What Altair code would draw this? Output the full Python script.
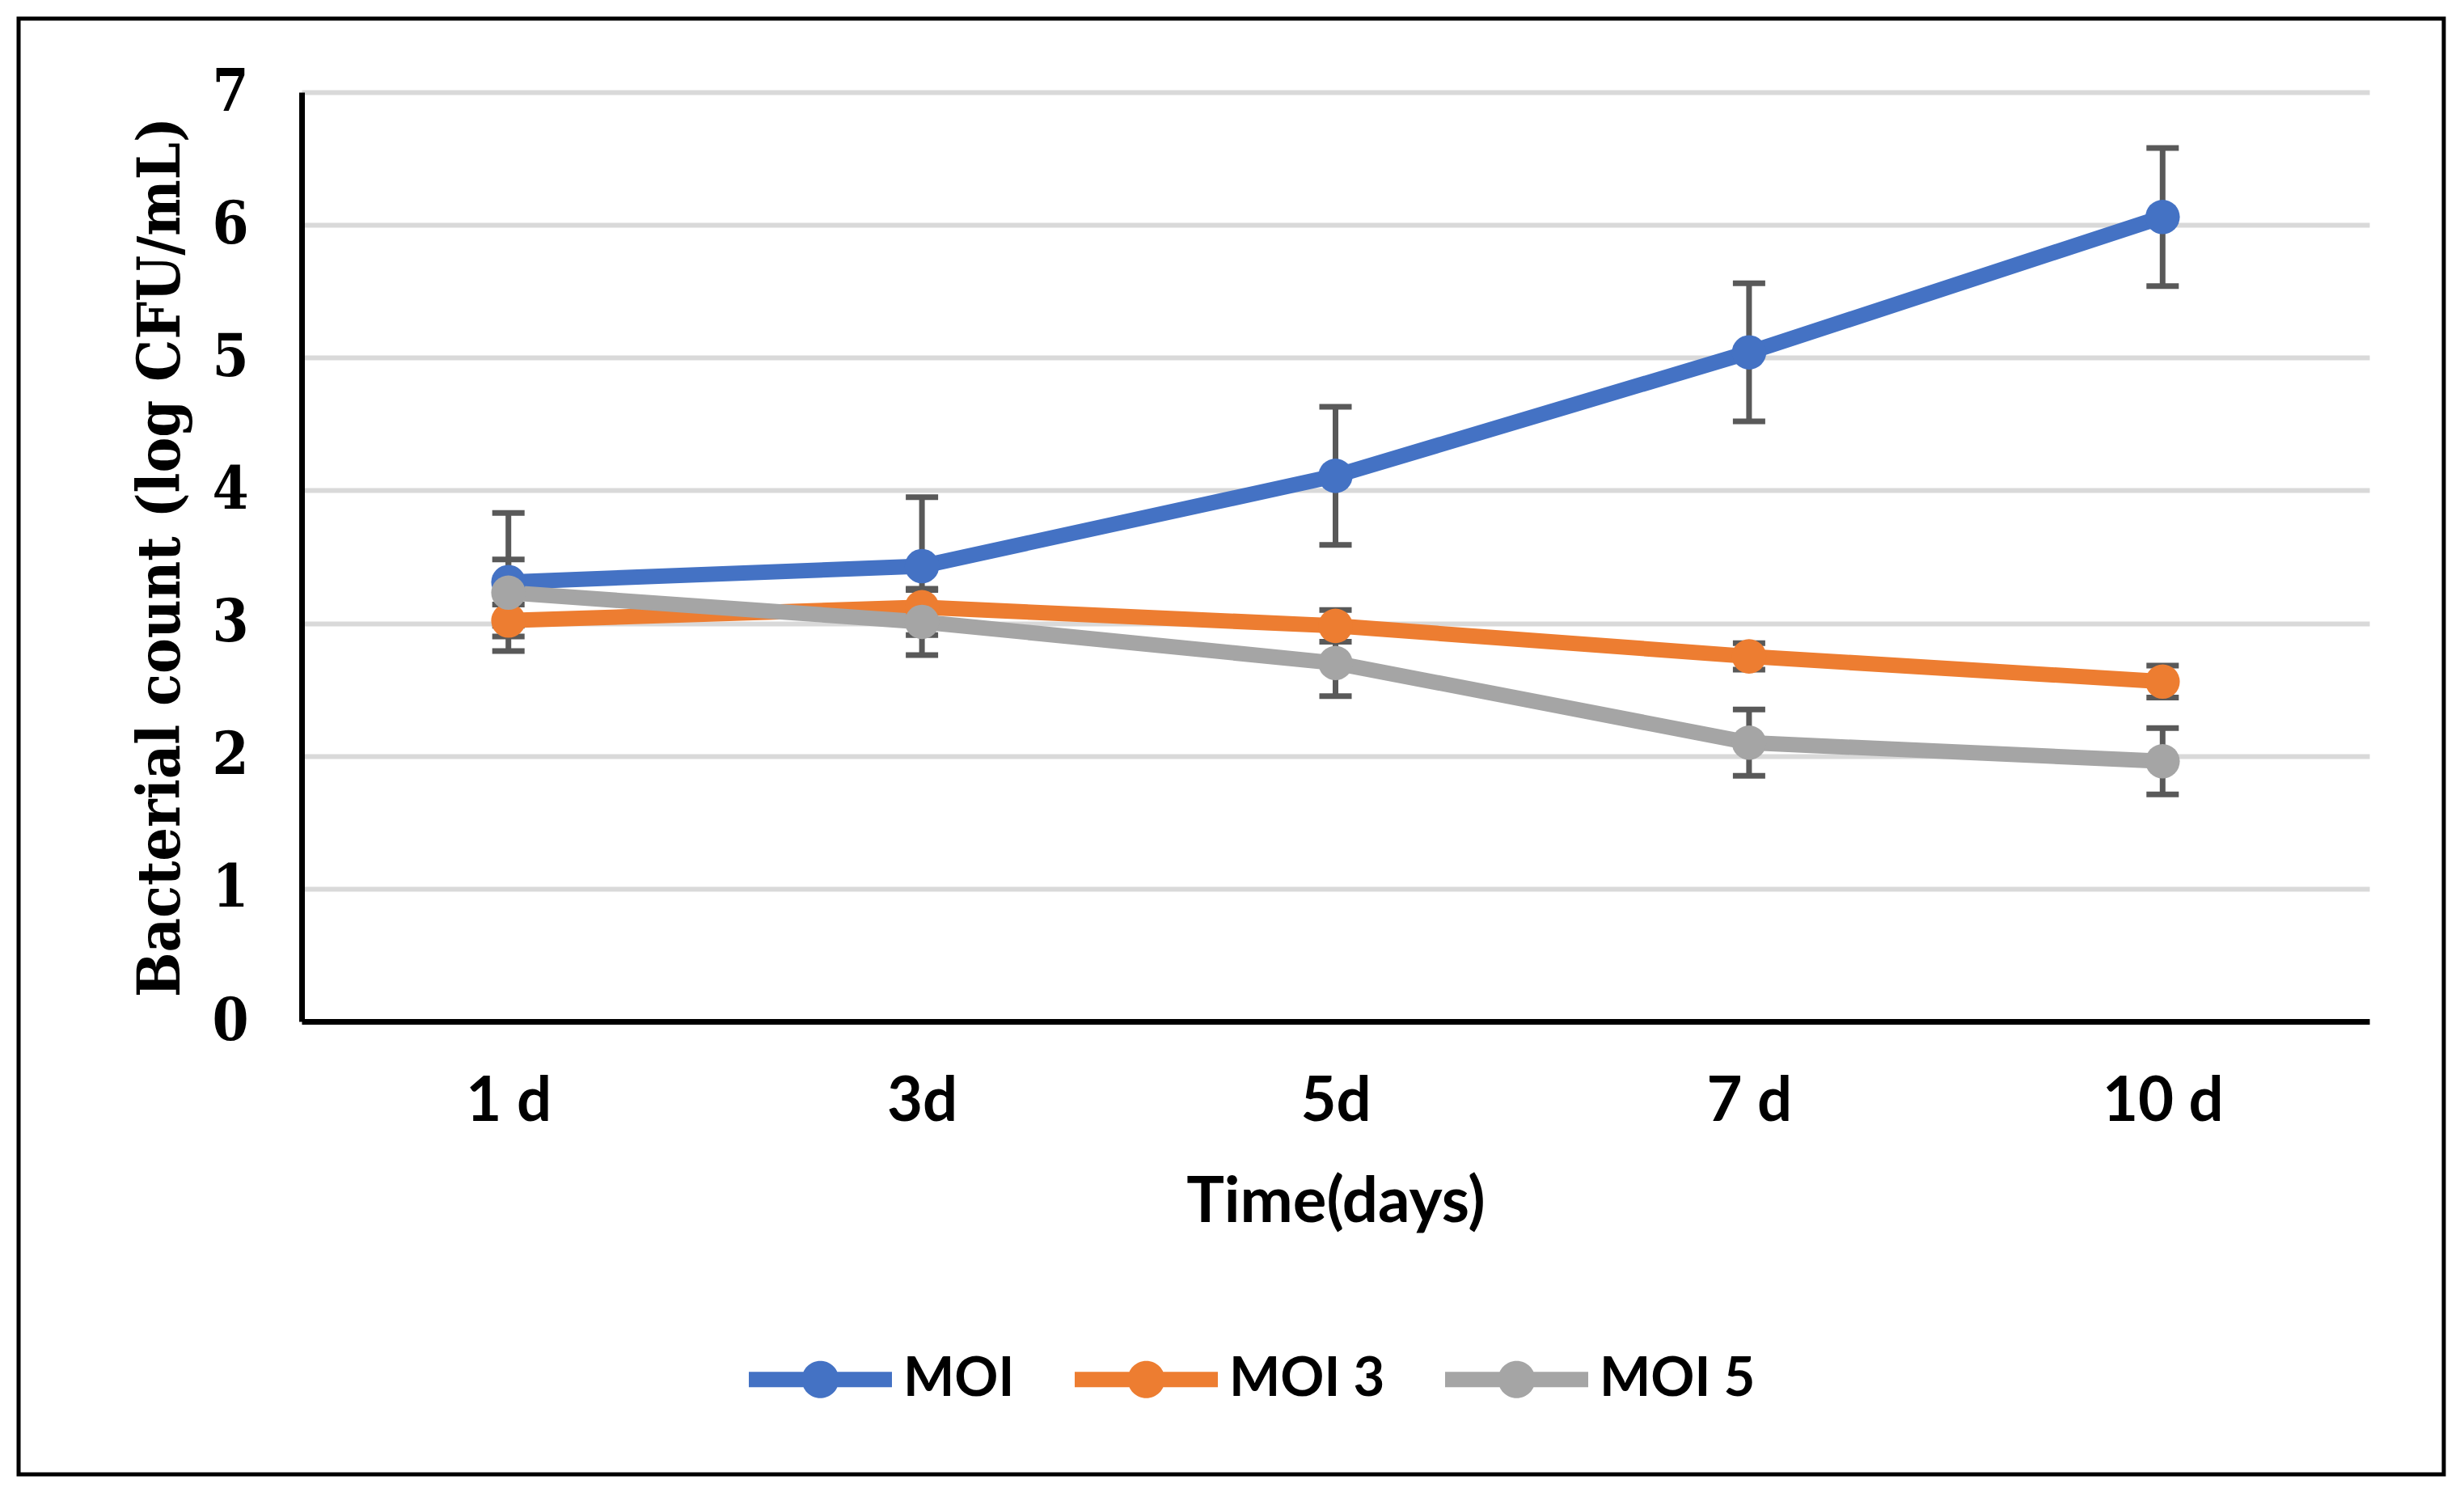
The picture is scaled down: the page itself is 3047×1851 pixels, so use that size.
import altair as alt
import pandas as pd

# values
days = ["1 d", "3d", "5d", "7 d", "10 d"]
series_names = ["MOI", "MOI 3", "MOI 5"]
moi = [3.31, 3.43, 4.11, 5.04, 6.06]
moi3 = [3.02, 3.12, 2.98, 2.75, 2.56]
moi5 = [3.23, 3.01, 2.70, 2.10, 1.96]
moi_err = [0.52, 0.52, 0.52, 0.52, 0.52]
moi3_err = [0.12, 0.13, 0.12, 0.10, 0.12]
moi5_err = [0.25, 0.25, 0.25, 0.25, 0.25]
colors = ["#4472C4", "#ED7D31", "#A5A5A5"]

rows = []
for name, vals, errs in zip(series_names, [moi, moi3, moi5], [moi_err, moi3_err, moi5_err]):
    for d, v, e in zip(days, vals, errs):
        rows.append({"day": d, "series": name, "value": v, "lo": v - e, "hi": v + e})
df = pd.DataFrame(rows)

W, H = 2557, 1149
Y_TITLE = "Bacterial count (log CFU/mL)"
X_TITLE = "Time(days)"
SANS = "Lato"
SERIF = "DejaVu Serif Condensed"

x_enc = alt.X("day:N", sort=days, title=X_TITLE,
              scale=alt.Scale(type="point", padding=0.5),
              axis=alt.Axis(labelAngle=0, labelFont=SANS, labelFontWeight="bold",
                            labelFontSize=76, labelColor="black", labelPadding=62, ticks=False,
                            domainColor="black", domainWidth=7, grid=False,
                            titleFont=SANS, titleFontWeight="bold",
                            titleFontSize=78, titleColor="black", titleY=247,
                            titleBaseline="alphabetic"))
y_scale = alt.Scale(domain=[0, 7], nice=False, zero=True)
y_axis = alt.Axis(values=list(range(8)), ticks=False, labelPadding=66,
                  labelFont=SERIF, labelFontWeight="bold", labelFontSize=72,
                  labelColor="black", domainColor="black", domainWidth=7,
                  gridColor="#d9d9d9", gridWidth=6,
                  titleFont=SERIF, titleFontWeight="bold", titleFontSize=73,
                  titleColor="black", titleX=-174, titleY=H / 2, titleAngle=270,
                  titleAlign="center", titleBaseline="middle")

frame = alt.Chart(pd.DataFrame({"k": [0]})).mark_rect(
    fillOpacity=0, stroke="black", strokeWidth=5
).encode(x=alt.value(-350), x2=alt.value(W + 92), y=alt.value(-91), y2=alt.value(H + 560))

bars = alt.Chart(df).mark_rule(color="#595959", strokeWidth=7).encode(
    x=x_enc,
    y=alt.Y("lo:Q", scale=y_scale, axis=y_axis, title=Y_TITLE),
    y2="hi:Q",
)

caps = alt.Chart(df).transform_fold(["lo", "hi"], as_=["which", "cap"]).mark_tick(
    color="#595959", size=40, thickness=7, opacity=1
).encode(
    x=x_enc,
    y=alt.Y("cap:Q", scale=y_scale, axis=y_axis, title=Y_TITLE),
)

legend_symbol = ("M-1,-0.107H1V0.107H-1Z "
                 "M-0.26,0A0.26,0.26 0 1,1 0.26,0A0.26,0.26 0 1,1 -0.26,0Z")

lines = alt.Chart(df).mark_line(
    strokeWidth=19,
    point=alt.OverlayMarkDef(filled=True, size=1810, opacity=1),
).encode(
    x=x_enc,
    y=alt.Y("value:Q", scale=y_scale, axis=y_axis, title=Y_TITLE),
    color=alt.Color("series:N", sort=series_names,
                    scale=alt.Scale(domain=series_names, range=colors),
                    legend=alt.Legend(title=None, orient="none", legendX=553, legendY=1503,
                                      direction="horizontal", symbolType=legend_symbol,
                                      symbolSize=31329, symbolStrokeWidth=0, symbolOpacity=1,
                                      labelFont=SANS, labelFontWeight="bold",
                                      labelFontSize=67, labelColor="black", labelOffset=14,
                                      labelLimit=400, columnPadding=74, padding=0)),
)

chart = alt.layer(frame, bars, caps, lines).properties(
    width=W, height=H,
    padding={"left": 12, "top": 12, "right": 12, "bottom": 12},
    background="white",
).configure_view(stroke=None)

chart.save("out.html", embed_options={"renderer": "svg", "actions": False})
